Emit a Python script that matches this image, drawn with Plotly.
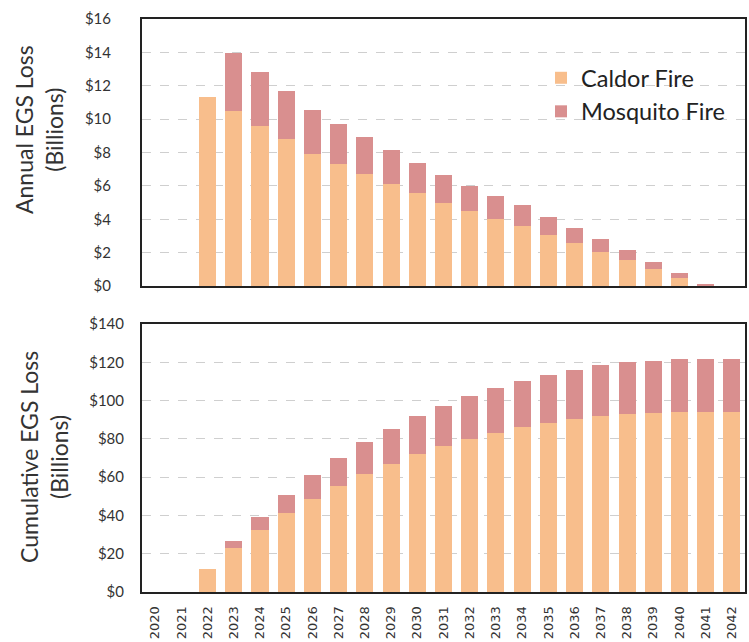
import plotly.graph_objects as go

years = [str(y) for y in range(2020, 2043)]

annual_caldor = [0, 0, 11.3, 10.5, 9.6, 8.8, 7.9, 7.3, 6.7, 6.1, 5.55, 4.95, 4.5, 4.03, 3.6, 3.06, 2.56, 2.02, 1.54, 1.0, 0.5, 0.05, 0]
annual_mosquito = [0, 0, 0, 3.45, 3.2, 2.9, 2.65, 2.4, 2.25, 2.05, 1.85, 1.7, 1.5, 1.38, 1.23, 1.1, 0.92, 0.8, 0.6, 0.46, 0.28, 0.05, 0]

cum_caldor = [0, 0, 12.0, 22.9, 32.6, 41.2, 48.6, 55.6, 61.7, 66.9, 71.9, 76.2, 79.9, 83.0, 86.0, 88.1, 90.3, 91.7, 92.8, 93.5, 94.0, 94.0, 94.0]
cum_mosquito = [0, 0, 0, 3.6, 6.6, 9.4, 12.3, 14.3, 16.4, 18.4, 19.8, 20.9, 22.3, 23.5, 24.4, 25.4, 25.8, 26.7, 27.2, 27.3, 27.5, 27.6, 27.6]

annual_ticks = [0, 2, 4, 6, 8, 10, 12, 14, 16]
cum_ticks = [0, 20, 40, 60, 80, 100, 120, 140]

CALDOR = "#F8BE8C"
MOSQ = "#D98F8F"

fig = go.Figure()
fig.add_trace(go.Bar(x=years, y=annual_caldor, name="Caldor Fire", marker=dict(color=CALDOR, line=dict(width=0)),
                     xaxis="x", yaxis="y", legendgroup="c"))
fig.add_trace(go.Bar(x=years, y=annual_mosquito, name="Mosquito Fire", marker=dict(color=MOSQ, line=dict(width=0)),
                     xaxis="x", yaxis="y", legendgroup="m"))
fig.add_trace(go.Bar(x=years, y=cum_caldor, name="Caldor Fire", marker=dict(color=CALDOR, line=dict(width=0)),
                     xaxis="x2", yaxis="y2", showlegend=False, legendgroup="c"))
fig.add_trace(go.Bar(x=years, y=cum_mosquito, name="Mosquito Fire", marker=dict(color=MOSQ, line=dict(width=0)),
                     xaxis="x2", yaxis="y2", showlegend=False, legendgroup="m"))

W, H = 749, 642
xd = [142 / W, 745 / W]
grid = dict(showgrid=True, gridcolor="#cfcfcf", griddash="dash", gridwidth=1)
frame = dict(showline=True, mirror=True, linecolor="#222222", linewidth=2, zeroline=False, automargin=False)
tickfont = dict(family="Lato", size=15, color="#333333")
titlefont = dict(family="Lato", size=23, color="#333333")

fig.update_layout(
    width=W, height=H,
    template="none",
    paper_bgcolor="white", plot_bgcolor="white",
    margin=dict(l=0, r=0, t=0, b=0),
    barmode="stack", bargap=0.35,
    showlegend=True,
    legend=dict(x=541 / W, y=1 - 56 / H, xanchor="left", yanchor="top", bgcolor="rgba(0,0,0,0)",
                font=dict(family="Lato", size=23.5, color="#222222"), tracegroupgap=7,
                traceorder="normal"),
    xaxis=dict(domain=xd, anchor="y", type="category", showticklabels=False, ticks="", **frame),
    yaxis=dict(domain=[1 - 286 / H, 1 - 19 / H], anchor="x", range=[0, 16], tickvals=annual_ticks,
               ticktext=["$" + str(v) for v in annual_ticks], tickfont=tickfont, ticks="",
               ticklabelstandoff=26, **grid, **frame),
    xaxis2=dict(domain=xd, anchor="y2", type="category", tickangle=-90, ticks="", ticklabelstandoff=7,
                tickfont=dict(family="DejaVu Sans", size=13, color="#333333"), **frame),
    yaxis2=dict(domain=[1 - 592 / H, 1 - 324 / H], anchor="x2", range=[0, 140], tickvals=cum_ticks,
                ticktext=["$" + str(v) for v in cum_ticks], tickfont=tickfont, ticks="",
                ticklabelstandoff=13, **grid, **frame),
    annotations=[
        dict(text="Annual EGS Loss<br>(Billions)", x=39 / W, y=1 - 130 / H, xref="paper", yref="paper",
             textangle=-90, showarrow=False, font=titlefont,
             xanchor="center", yanchor="middle"),
        dict(text="Cumulative EGS Loss<br>(Billions)", x=44 / W, y=1 - 457 / H, xref="paper", yref="paper",
             textangle=-90, showarrow=False, font=titlefont,
             xanchor="center", yanchor="middle"),
    ],
)

fig.write_html("out.html", config={"displayModeBar": False},
               post_script="document.body.style.margin='0';document.body.style.padding='0';"
                           "document.documentElement.style.overflow='hidden';")
